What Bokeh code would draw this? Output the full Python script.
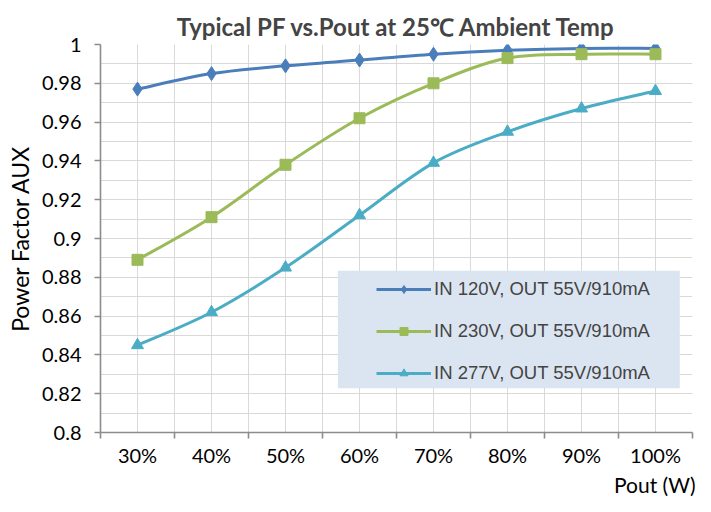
import numpy as np
from bokeh.plotting import figure
from bokeh.models import FixedTicker, Range1d, BoxAnnotation, Title
from bokeh.embed import file_html
from bokeh.resources import INLINE

categories = ["30%", "40%", "50%", "60%", "70%", "80%", "90%", "100%"]
pf_120 = [0.977, 0.985, 0.989, 0.992, 0.995, 0.997, 0.998, 0.998]
pf_230 = [0.889, 0.911, 0.938, 0.962, 0.980, 0.993, 0.995, 0.995]
pf_277 = [0.845, 0.862, 0.885, 0.912, 0.939, 0.955, 0.967, 0.976]
series_names = ["IN 120V, OUT 55V/910mA", "IN 230V, OUT 55V/910mA", "IN 277V, OUT 55V/910mA"]
y_ticks = [0.8, 0.82, 0.84, 0.86, 0.88, 0.9, 0.92, 0.94, 0.96, 0.98, 1.0]
y_tick_labels = ["0.8", "0.82", "0.84", "0.86", "0.88", "0.9", "0.92", "0.94", "0.96", "0.98", "1"]

CAL = "Lato"

p = figure(width=695, height=496, output_backend="svg", toolbar_location=None,
           x_range=Range1d(0.5, len(categories) + 0.5), y_range=Range1d(0.8, 1.0),
           min_border_left=100, min_border_right=3, min_border_top=44, min_border_bottom=56)
p.outline_line_color = None
p.background_fill_color = "white"

p.title.text = "Typical PF vs.Pout at 25\u2103 Ambient Temp"
p.title.text_font = CAL
p.title.text_font_size = "24px"
p.title.text_font_style = "bold"
p.title.align = "center"
p.title.vertical_align = "middle"
p.title.standoff = 6

xs = np.arange(1, len(categories) + 1, dtype=float)

# x axis: labels at centers, tick marks at boundaries
p.xaxis.ticker = FixedTicker(ticks=list(xs), minor_ticks=list(np.arange(0.5, len(categories) + 1, 1.0)))
p.xaxis.major_label_overrides = {float(x): c for x, c in zip(xs, categories)}
p.xaxis.major_tick_out = 0
p.xaxis.major_tick_in = 0
p.xaxis.minor_tick_out = 6
p.xaxis.minor_tick_in = 0
p.xaxis.major_label_standoff = 4
p.yaxis.ticker = FixedTicker(ticks=y_ticks, minor_ticks=list(np.round(np.arange(0.8, 1.0001, 0.01), 3)))
p.yaxis.major_label_overrides = {t: l for t, l in zip(y_ticks, y_tick_labels)}
p.yaxis.major_tick_out = 6
p.yaxis.major_tick_in = 0
p.yaxis.minor_tick_out = 0
p.yaxis.minor_tick_in = 0
p.yaxis.major_label_standoff = 13
p.yaxis.axis_label = "Power Factor AUX"
p.yaxis.axis_label_standoff = 5
p.yaxis.axis_label_text_font = CAL
p.yaxis.axis_label_text_font_size = "23px"
p.yaxis.axis_label_text_font_style = "normal"
p.yaxis.axis_label_text_color = "black"

for ax in (p.xaxis, p.yaxis):
    ax.axis_line_color = "#8c8c8c"
    ax.axis_line_width = 1.6
    ax.major_tick_line_color = "#8c8c8c"
    ax.major_tick_line_width = 1.6
    ax.minor_tick_line_color = "#8c8c8c"
    ax.minor_tick_line_width = 1.6
    ax.major_label_text_font = CAL
    ax.major_label_text_font_size = "20px"
    ax.major_label_text_color = "black"

for g in (p.xgrid, p.ygrid):
    g.grid_line_color = "#d9d9d9"
    g.grid_line_width = 1
    g.minor_grid_line_color = "#d9d9d9"
    g.minor_grid_line_width = 1

# x axis title, right aligned under the axis
p.add_layout(Title(text="Pout (W)", align="right", text_font=CAL, text_font_size="21px",
                   text_font_style="normal", text_color="black", standoff=0, offset=-3), "below")

# legend background box
p.add_layout(BoxAnnotation(left=3.708, right=8.328, top=0.8834, bottom=0.8228,
                           fill_color="#dbe5f1", fill_alpha=1.0, line_color=None, level="underlay"))


def bezier_parts(x, y):
    x = np.asarray(x, float); y = np.asarray(y, float)
    xp = np.concatenate([[x[0]], x, [x[-1]]])
    yp = np.concatenate([[y[0]], y, [y[-1]]])
    n = len(x) - 1
    x0, y0, x1, y1 = x[:-1], y[:-1], x[1:], y[1:]
    cx0 = xp[1:n + 1] + (xp[2:n + 2] - xp[0:n]) / 6
    cy0 = yp[1:n + 1] + (yp[2:n + 2] - yp[0:n]) / 6
    cx1 = xp[2:n + 2] - (xp[3:n + 3] - xp[1:n + 1]) / 6
    cy1 = yp[2:n + 2] - (yp[3:n + 3] - yp[1:n + 1]) / 6
    return dict(x0=x0, y0=y0, x1=x1, y1=y1, cx0=cx0, cy0=cy0, cx1=cx1, cy1=cy1)


series = [
    (pf_120, "#4a7ebb", "diamond", 14),
    (pf_230, "#9bbb59", "square", 11),
    (pf_277, "#4bacc6", "triangle", 12),
]
for (vals, color, marker, size), name in zip(series, series_names):
    b = bezier_parts(xs, vals)
    p.bezier(**b, line_color=color, line_width=3, legend_label=name)
    p.scatter(xs, vals, marker=marker, size=size, fill_color=color, line_color=color,
              legend_label=name)

lg = p.legend[0]
lg.location = (276, 48)
lg.background_fill_alpha = 0
lg.border_line_color = None
lg.padding = 10
lg.margin = 0
lg.spacing = 20
lg.glyph_width = 55
lg.glyph_height = 20
lg.label_standoff = 3
lg.label_text_font = "Liberation Sans"
lg.label_text_font_size = "18.5px"
lg.label_height = 20

open("out.html", "w").write(file_html(p, INLINE))
